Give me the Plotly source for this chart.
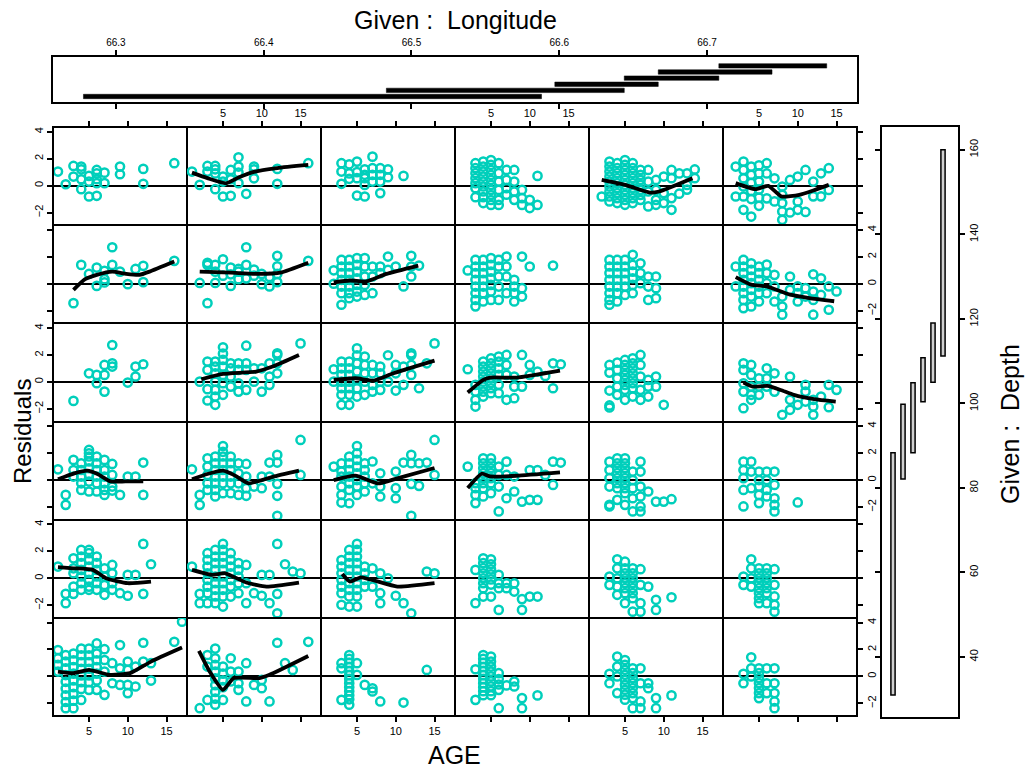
import plotly.graph_objects as go

W, H = 1026, 773
FONT = "Liberation Sans, Arial, Helvetica, sans-serif"
CYAN = "#00CFBB"

# ---------------- data ----------------
AGE_TICKS = [5, 10, 15]
RESID_TICKS = [-2, 0, 2, 4]
LON_TICKS = [66.3, 66.4, 66.5, 66.6, 66.7]
LON_LABELS = ["66.3", "66.4", "66.5", "66.6", "66.7"]
DEPTH_TICKS = [40, 60, 80, 100, 120, 140, 160]

LON_LO = [66.278, 66.483, 66.597, 66.644, 66.667, 66.708]
LON_HI = [66.588, 66.644, 66.667, 66.708, 66.744, 66.781]
DEPTH_LO = [31.0, 82.1, 88.3, 100.4, 105.0, 111.2]
DEPTH_HI = [88.3, 99.8, 104.9, 110.8, 119.0, 160.0]

# scatter data per panel: row (from top), column (from left); AGE -> residuals
p11 = {1: [1.04], 2: [0.1], 3: [1.46, 0.67], 4: [1.41, 1.21, 0.47, -0.27], 5: [0.72, 0.3, -0.81],
       6: [1.16, 0.9, 0.47, 0.18, -0.76], 7: [0.96, 0.18], 9: [1.41, 0.84], 12: [1.24, 0.13], 16: [1.66]}
p12 = {1: [1.04], 2: [0.05], 3: [1.46, 1.04], 4: [1.46, 1.21, 0.9, -0.27], 5: [0.67, 0.3, -0.81],
       6: [1.16, 0.47, -0.76], 7: [2.1, 1.41, 0.96, 0.18], 8: [-0.61], 9: [1.41, 1.21, 0.54],
       12: [1.24, 0.13], 16: [1.66]}
p13 = {3: [1.66, 1.04, 0.13], 4: [1.58, 0.9, 0.5], 5: [1.78, 1.0, 0.55, -0.74], 6: [1.21, 0.8, 0.55, 0.05, -0.81],
       7: [2.15, 1.29, 0.79, 0.3], 8: [1.29, 0.8, 0.3, -0.56], 9: [1.21, 0.62], 11: [0.72]}
p14 = {3: [1.66, 1.29, 0.92, 0.55, 0.18, -0.19, -0.86], 4: [1.78, 1.41, 1.04, 0.67, 0.3, -0.07, -0.44, -0.86, -1.3],
       5: [1.9, 1.53, 1.16, 0.79, 0.42, 0.05, -0.32, -0.7, -1.07, -1.44], 6: [1.66, 0.92, 0.3, -0.32, -1.06, -1.44],
       7: [1.16, 0.42, -0.19, -0.68], 8: [1.16, 0.3, -0.44, -1.06], 9: [-0.32, -0.93, -1.44], 10: [-1.06, -1.67],
       11: [0.72, -1.44]}
p15 = {2: [-0.81], 3: [1.78, 1.41, 1.04, 0.67, 0.3, -0.07, -0.44, -0.81, -1.18],
       4: [1.66, 1.29, 0.92, 0.55, 0.18, -0.19, -0.56, -0.93, -1.3],
       5: [1.9, 1.53, 1.16, 0.79, 0.42, 0.05, -0.32, -0.69, -1.06, -1.43],
       6: [1.66, 1.29, 0.92, 0.55, 0.18, -0.19, -0.56, -0.93, -1.3], 7: [1.16, 0.79, 0.42, 0.05, -0.32, -0.69, -1.06],
       8: [1.16, 0.3, -0.44, -1.55], 9: [0.42, -0.32, -1.06, -1.43], 10: [0.67, -0.56, -1.3],
       11: [1.16, 0.55, -0.93, -1.8], 12: [0.9, -0.6], 13: [0.91, 0.05, -0.3], 14: [1.2, 0.55]}
p16 = {2: [1.41, -0.81], 3: [1.78, 1.16, 0.54, -0.07, -0.81, -1.8], 4: [1.41, 0.8, 0.2, -0.4, -1.0, -2.3],
       5: [1.5, 0.9, 0.3, -0.3, -0.9, -1.5], 6: [1.66, 0.9, -0.95], 7: [0.54, -1.18],
       8: [-0.07, -0.69, -1.3, -1.92, -2.54], 9: [0.42, -2.0], 10: [0.67, -1.18, -1.8], 11: [1.16, -1.96],
       12: [0.3, -0.8], 13: [0.91, -0.8], 14: [1.29, -0.32]}

p21 = {3: [-1.44], 4: [1.4], 5: [0.73], 6: [1.2, -0.16], 7: [0.96, 0.34, 0.1], 8: [2.71, 1.4], 9: [0.9],
       10: [-0.03], 11: [1.1], 12: [1.33, 0.12], 16: [1.7]}
p22 = {2: [0.06], 3: [1.55, 1.4, -1.44], 4: [1.4, 0.9, 0.06], 5: [1.82, 0.6], 6: [1.2, 0.7, -0.16],
       7: [1.1, 0.9, 0.34], 8: [2.71, 1.4, 0.4], 9: [1.05, 0.6], 10: [0.73, -0.03], 11: [0.5, -0.2],
       12: [2.07, 1.3, 0.73, 0.12], 16: [1.7]}
p23 = {2: [1.0, 0.0], 3: [1.77, 1.28, 0.79, 0.29, -0.21, -0.7, -1.56], 4: [1.77, 1.28, 0.79, 0.29, -0.21, -0.7, -1.07],
       5: [1.9, 1.4, 0.9, 0.41, -0.09, -0.58, -0.95], 6: [1.9, 1.28, 0.54, -0.09, -0.83], 7: [1.28, 0.54, -0.7],
       8: [1.28, 0.79], 9: [2.02, 1.03], 10: [1.28], 11: [-0.2], 12: [2.07, 1.28, 0.54], 13: [1.35]}
p24 = {2: [0.99], 3: [1.77, 1.28, 0.79, 0.29, -0.21, -0.7, -1.2, -1.68], 4: [1.77, 1.28, 0.79, 0.29, -0.21, -0.7, -1.32],
       5: [1.9, 1.4, 0.9, 0.41, -0.09, -0.58, -1.2], 6: [1.77, 1.28, 0.54, -0.21, -1.2], 7: [2.02, 1.28, 0.54, -0.7],
       8: [0.29, -0.21, -0.7, -1.32], 9: [2.02, -0.33, -0.95], 10: [1.28], 13: [1.35]}
p25 = {3: [1.77, 1.28, 0.79, 0.29, -0.21, -0.7, -1.2, -1.56], 4: [1.77, 1.28, 0.79, 0.29, -0.21, -0.7, -1.32],
       5: [1.77, 1.28, 0.79, 0.29, -0.21, -0.83], 6: [2.15, 1.4, 0.9, 0.41, -0.09, -0.7], 7: [1.52, 0.79, 0.04],
       8: [0.54, -0.21, -1.2], 9: [0.54, -0.33, -1.07]}
p26 = {2: [1.28, -0.2], 3: [1.77, 1.28, 0.79, 0.29, -0.21, -0.7, -1.2, -1.81],
       4: [1.52, 1.03, 0.54, 0.04, -0.45, -0.95, -1.69], 5: [1.28, 0.79, 0.29, -0.21, -0.7, -1.32],
       6: [1.42, 0.79, 0.04, -0.7], 7: [0.66, -0.2, -1.32], 8: [-0.95, -1.69, -2.3], 9: [0.54, -0.45],
       10: [-0.2, -0.7, -1.32], 11: [-0.33, -0.95], 12: [0.7, -0.58, -1.2, -2.3], 13: [0.41, -0.83],
       14: [-0.2, -1.93], 15: [-0.57]}

p31 = {3: [-1.41], 5: [0.64], 6: [0.52, -0.1], 7: [1.26, 0.52, -0.72], 8: [2.74, 1.38, 1.14], 10: [-0.05],
       11: [1.14, 0.4], 12: [1.31]}
p32 = {2: [0.02], 3: [1.51, 0.89, -0.54, -1.38], 4: [1.51, 1.14, 0.64, 0.02, -0.59, -1.09, -1.7],
       5: [2.57, 2.1, 1.63, 1.14, 0.52, -0.1, -0.96], 6: [1.38, 1.01, 0.4, -0.35], 7: [1.38, 0.89, -0.1, -0.72],
       8: [2.69, 1.38, 0.89, -0.59], 9: [1.01, 0.02], 10: [1.01, -0.72], 11: [1.38, 0.4, -0.22],
       12: [2.12, 2.0, 1.38, 0.64], 15: [2.86]}
p33 = {2: [0.94, 0.02], 3: [1.51, 1.01, 0.52, 0.02, -0.47, -0.96, -1.7], 4: [1.51, 1.01, 0.52, 0.02, -0.47, -0.96, -1.7],
       5: [2.49, 1.98, 1.38, 0.77, 0.15, -0.47, -1.09], 6: [1.88, 1.26, 0.64, 0.02, -0.96],
       7: [1.26, 0.64, -0.22, -0.72], 8: [1.14, 0.64, 0.02, -0.59], 9: [1.98, 0.02], 10: [1.26, 0.64, -0.64],
       11: [1.14, -0.22], 12: [2.12, 1.98, 1.26, 0.52], 13: [-0.47], 14: [1.38], 15: [2.86]}
p34 = {2: [0.94], 3: [-0.22, -0.72, -1.33, -1.83], 4: [1.51, 1.14, 0.77, 0.4, 0.02, -0.35, -0.72, -1.09],
       5: [1.75, 1.38, 1.01, 0.64, 0.27, -0.1, -0.47, -0.84], 6: [1.88, 1.51, 1.01, 0.52, -0.22, -0.84],
       7: [2.0, 1.26, 0.52, -1.33], 8: [0.4, -0.35, -1.21], 9: [2.0, -0.35], 10: [1.26, 0.52], 11: [0.77],
       12: [0.44], 13: [1.38, -0.47], 14: [1.31]}
p35 = {3: [1.26, 0.69, -0.64, -1.75, -1.9], 4: [1.43, 0.89, 0.27, -0.35, -0.96],
       5: [1.63, 1.26, 0.89, 0.52, 0.15, -0.22, -0.59, -1.33], 6: [1.75, 1.38, 1.01, 0.64, 0.27, -0.1, -0.47, -1.09],
       7: [2.0, 1.26, 0.4, -0.59, -1.33], 8: [0.15, -0.35, -1.09], 9: [0.4, -0.35], 10: [-1.7]}
p36 = {3: [1.38, 0.89, -0.1, -0.72, -1.95], 4: [1.26, 0.52, -0.35, -0.96, -1.33], 5: [0.27, -0.35, -0.96],
       6: [1.01, 0.27, -0.35], 7: [0.64, -0.72], 8: [-2.44], 9: [0.4, -1.33, -2.07], 10: [-1.7],
       11: [-0.22, -0.72, -1.46], 12: [-1.33, -1.83, -2.44], 13: [-1.09], 14: [-0.22, -1.88], 15: [-0.59]}

p41 = {1: [0.8], 2: [-1.1, -1.84], 3: [1.5, 0.75, 0.26], 4: [1.25, 0.75, 0.26, -0.24, -0.73],
       5: [2.24, 1.99, 1.75, 1.38, 0.88, 0.38, -0.11, -0.85], 6: [1.75, 1.25, 0.75, 0.26, -0.24, -0.85],
       7: [1.5, 0.75, 0.26, -0.24, -0.73, -1.1], 8: [1.2, 0.38, -0.48, -0.78], 9: [-1.1], 10: [0.26], 11: [0.26],
       12: [1.3, -1.1]}
p42 = {1: [0.8], 2: [-1.1, -1.84], 3: [1.62, 1.0, 0.38, -0.24, -0.73], 4: [1.75, 1.25, 0.75, 0.26, -0.24, -0.73, -1.22],
       5: [2.53, 2.1, 1.75, 1.25, 0.75, 0.26, -0.24, -0.97], 6: [1.75, 1.25, 0.75, 0.26, -0.24, -0.97],
       7: [1.25, 0.5, -0.24, -1.1], 8: [1.2, 0.26, -0.6, -1.17], 9: [-0.48], 10: [0.26, -0.6], 11: [1.3, 0.26],
       12: [1.87, 1.3, -0.28, -1.17, -2.65], 15: [2.98, 0.38]}
p43 = {2: [1.0], 3: [1.25, 0.63, 0.26, -0.48, -1.1, -1.67], 4: [1.75, 1.25, 0.75, 0.26, -0.24, -0.73, -1.72],
       5: [2.53, 1.99, 1.5, 1.0, 0.5, 0.0, -0.48, -1.1], 6: [1.25, 0.75, 0.26, -0.24, -0.85], 7: [1.38, -0.24],
       8: [0.5, -0.48, -1.22], 10: [0.63, -0.6, -1.35], 11: [1.3], 12: [1.87, 1.25, -0.28, -2.65],
       13: [1.25, -0.43], 14: [1.3], 15: [2.98, 0.38]}
p44 = {2: [1.0], 3: [-0.23, -0.6, -1.1, -1.71], 4: [1.61, 1.25, 0.88, 0.51, 0.14, -0.23, -0.6, -1.22],
       5: [1.61, 1.25, 0.88, 0.51, 0.14, -0.23, -0.97], 6: [1.0, 0.38, -0.48, -2.33], 7: [1.37, 0.38, -1.35],
       8: [0.26, -0.85], 9: [-1.6], 10: [0.75, -1.47], 11: [0.75, -1.47], 12: [0.38], 13: [1.37, -0.36], 14: [1.3]}
p45 = {3: [1.37, 0.75, 0.14, -0.48, -1.84, -1.96], 4: [1.61, 1.25, 0.88, 0.51, 0.14, -0.23, -0.6, -1.47],
       5: [1.61, 1.25, 0.88, 0.51, 0.14, -0.23, -0.6, -0.97, -1.84], 6: [0.63, 0.0, -0.6, -1.35, -2.33],
       7: [1.37, 0.63, -0.48, -1.22, -1.96, -2.33], 8: [-0.85], 9: [-1.6], 10: [-1.6], 11: [-1.42]}
p46 = {3: [1.37, 0.75, 0.14, -0.73, -1.96], 4: [1.37, 0.63, -0.6], 5: [0.63, 0.0, -0.48, -1.1, -1.71],
       6: [0.63, 0.0, -0.73, -1.22], 7: [0.63, -0.36, -1.35, -1.84, -2.33], 10: [-1.66]}

p51 = {1: [0.87], 2: [-1.16, -1.85], 3: [1.48, 0.74, 0.37, -0.62, -1.16], 4: [2.1, 1.61, 1.12, 0.62, 0.13, -0.37, -0.86],
       5: [2.1, 1.86, 1.37, 0.87, 0.37, -0.12, -0.62, -0.86], 6: [1.61, 1.12, 0.62, 0.13, -0.37, -0.86],
       7: [0.74, 0.13, -0.5, -1.23], 8: [0.99, 0.37, -0.37, -0.86], 9: [-1.11], 10: [0.25, -1.3], 11: [0.25],
       12: [2.55, -1.16], 13: [1.04]}
p52 = {1: [0.87], 2: [-1.16, -1.85], 3: [1.86, 1.37, 0.87, 0.37, -0.12, -0.62, -1.11, -1.85],
       4: [2.1, 1.61, 1.12, 0.62, 0.13, -0.37, -0.86, -1.35, -1.85],
       5: [2.55, 2.1, 1.61, 1.12, 0.62, 0.13, -0.37, -0.86, -1.35, -2.1],
       6: [1.86, 1.37, 0.87, 0.37, -0.12, -0.62, -1.36], 7: [1.12, 0.62, 0.13, -0.37, -1.11], 8: [0.99, -0.37, -1.85],
       9: [-1.11], 10: [0.25, -1.3], 11: [0.25, -1.85], 12: [2.55, -1.16, -2.6], 13: [1.04], 14: [0.5], 15: [0.37]}
p53 = {3: [1.35, 0.87, 0.37, -0.12, -0.62, -1.11, -1.97], 4: [2.1, 1.61, 1.12, 0.62, 0.13, -0.37, -0.86, -1.35, -2.1],
       5: [2.55, 2.1, 1.61, 1.12, 0.62, 0.13, -0.37, -0.86, -1.35, -2.1], 6: [0.87, 0.37, -0.12, -0.62],
       7: [0.74, -0.62], 8: [0.37, -1.11, -1.85], 9: [0.0], 10: [-1.3], 11: [-1.85], 12: [-2.6], 14: [0.5], 15: [0.37]}
p54 = {3: [0.62, -1.85], 4: [1.48, 1.12, 0.75, 0.37, 0.0, -0.37, -0.74, -1.36],
       5: [1.41, 1.04, 0.66, 0.29, -0.09, -0.47, -1.36], 6: [0.25, -0.37, -0.74, -2.35], 7: [-0.37, -0.74],
       8: [-0.37, -0.99], 9: [-1.55, -2.35], 10: [-1.36], 11: [-1.36]}
p55 = {3: [0.12, -0.49], 4: [1.41, 0.74, 0.0, -0.62, -1.23], 5: [1.23, 0.74, 0.37, 0.0, -0.37, -0.74, -1.11, -1.85],
       6: [0.74, 0.37, 0.0, -0.37, -0.74, -1.11, -1.48, -2.48], 7: [0.67, -0.49, -1.85, -2.48], 8: [-0.62],
       9: [-1.6, -2.35], 11: [-1.41]}
p56 = {3: [0.12, -0.49], 4: [1.41, 0.74, 0.0, -0.62], 5: [0.74, 0.37, 0.0, -0.37, -0.74, -1.11, -1.48, -1.85],
       6: [0.74, 0.37, 0.0, -0.37, -0.74, -1.11, -1.85], 7: [0.67, -0.49, -1.35, -1.97, -2.48]}

p61 = {1: [1.96, 1.35, 0.85, 0.36], 2: [1.58, 1.1, 0.6, 0.1, -0.4, -0.9, -1.4, -1.9, -2.36],
       3: [1.7, 1.2, 0.7, 0.2, -0.3, -0.8, -1.3, -1.8, -2.36], 4: [2.07, 1.57, 1.07, 0.57, 0.07, -0.43, -0.93, -1.75],
       5: [2.07, 1.57, 1.07, 0.57, 0.07, -0.43, -1.0], 6: [2.45, 1.7, 1.2, 0.7, 0.2, -0.3, -1.0],
       7: [2.02, 1.22, 0.36, -1.37], 8: [0.98, -0.51], 9: [2.33, 0.6, -0.63], 10: [1.1, 0.48, -0.63, -1.24],
       11: [0.73, -0.75], 12: [2.5, 1.1], 13: [0.98, -0.31], 16: [2.57], 17: [4.06]}
p62 = {2: [-2.36], 3: [1.59, 0.73, -1.75], 4: [2.07, 1.35, 0.85, 0.35, -0.15, -0.65, -1.15, -1.65, -2.1],
       5: [0.73, 0.2, -0.3, -0.8, -1.75], 6: [1.35, 0.36, -0.38], 7: [0.36, -0.51, -1.0], 8: [0.98, -1.86],
       9: [-0.63], 10: [-0.26, -0.88], 11: [-1.86], 12: [2.5], 13: [0.98], 14: [0.48], 16: [2.57]}
p63 = {3: [0.98, 0.6, -1.74], 4: [1.59, 1.3, 1.0, 0.7, 0.4, 0.1, -0.2, -0.5, -0.8, -1.1, -1.4, -1.7, -2.1],
       5: [0.98, 0.11], 6: [-0.63], 7: [-0.88, -1.12], 8: [-1.86], 11: [-1.94], 14: [0.48]}
p64 = {3: [0.53, -1.74], 4: [1.59, 1.3, 1.0, 0.7, 0.4, 0.1, -0.2, -0.5, -0.8, -1.1, -1.4],
       5: [1.47, 1.1, 0.73, 0.36, 0.0, -0.37, -0.74, -1.1, -1.4], 6: [0.24, -0.2, -0.6, -1.0, -2.36], 7: [-0.67],
       8: [-0.38, -0.75], 9: [-1.61, -2.36], 11: [-1.41]}
p65 = {3: [0.19, -0.51], 4: [1.47, 0.73, 0.0, -1.24], 5: [1.22, 0.86, 0.49, 0.12, -0.25, -0.62, -0.99, -1.36, -1.73],
       6: [0.6, 0.24, -0.13, -0.5, -0.87, -1.24, -1.61, -2.36], 7: [0.6, -0.51, -1.86, -2.36], 8: [-0.51, -0.88],
       9: [-1.61, -2.36], 11: [-1.41]}
p66 = {3: [0.19, -0.51], 4: [1.42, 0.6, 0.0], 5: [0.6, 0.24, -0.13, -0.5, -0.87, -1.24, -1.61],
       6: [0.6, -0.51, -1.24], 7: [0.6, -0.51, -1.24, -1.86, -2.36]}

# loess smooths (AGE, residual) for the panels that have one
l12 = ([1, 3, 5.4, 7, 9, 12, 16], [0.96, 0.55, 0.17, 0.6, 1.02, 1.3, 1.53])
l15 = ([2, 5, 8.2, 9.4, 13.7], [0.42, 0.05, -0.52, -0.44, 0.55])
l16 = ([2, 4.5, 6.2, 7.9, 10.2, 12, 14], [0.18, -0.27, -0.02, -0.81, -0.69, -0.37, 0.05])
l21 = ([3, 4.5, 6, 8, 9.8, 11.5, 12.8, 16], [-0.45, 0.34, 0.66, 0.9, 0.73, 0.66, 0.9, 1.65])
l22 = ([2, 6, 9.7, 12.4, 16], [0.9, 0.82, 0.73, 0.82, 1.56])
l23 = ([2, 4.1, 6.2, 8.8, 12.9], [0.1, 0.24, 0.17, 0.73, 1.35])
l26 = ([2, 4, 6, 9, 11.5, 14.7], [0.49, -0.07, -0.2, -0.81, -1.06, -1.3])
l32 = ([2.2, 5, 9.3, 11.4, 14.8], [0.2, 0.59, 0.77, 1.14, 2.0])
l33 = ([2, 4.8, 7.2, 9.7, 15], [0.15, 0.27, 0.1, 0.64, 1.58])
l34 = ([2, 4, 4.9, 8.3, 13.9], [-0.79, 0.15, 0.32, 0.32, 0.84])
l36 = ([3, 4.2, 6.1, 7.8, 9.5, 12.1, 14.9], [-0.05, -0.35, -0.3, -0.6, -0.96, -1.28, -1.46])
l41 = ([1, 3.1, 4.8, 6.1, 7.8, 9.7, 12], [0.06, 0.5, 0.7, 0.45, -0.1, -0.1, -0.1])
l42 = ([1, 3, 5, 6.5, 8.3, 11.4, 14.8], [0.06, 0.45, 0.7, 0.35, -0.24, 0.24, 0.7])
l43 = ([2, 4.8, 7.7, 10.2, 15], [0.0, 0.33, -0.25, 0.13, 0.9])
l44 = ([2, 3.8, 4.9, 8.3, 13.9], [-0.59, 0.47, 0.27, 0.32, 0.57])
l51 = ([1, 3, 5.5, 7.2, 10, 13], [0.82, 0.74, 0.62, 0.0, -0.37, -0.25])
l52 = ([1, 3.6, 5.3, 8, 10.6, 14.8], [0.62, 0.25, 0.37, -0.32, -0.62, -0.32])
l53 = ([3.1, 4.1, 5.5, 10.2, 15], [0.32, -0.25, 0.07, -0.62, -0.37])
l61 = ([1, 3, 5, 7.7, 10.3, 13, 17], [0.36, 0.24, 0.48, 0.12, 0.24, 1.1, 2.14])
l62 = ([1.9, 3.3, 5, 6.4, 9.7, 11, 16], [1.9, 0.35, -1.0, -0.12, -0.12, 0.12, 1.52])

PANELS = {(1, 1): p11, (1, 2): p12, (1, 3): p13, (1, 4): p14, (1, 5): p15, (1, 6): p16,
          (2, 1): p21, (2, 2): p22, (2, 3): p23, (2, 4): p24, (2, 5): p25, (2, 6): p26,
          (3, 1): p31, (3, 2): p32, (3, 3): p33, (3, 4): p34, (3, 5): p35, (3, 6): p36,
          (4, 1): p41, (4, 2): p42, (4, 3): p43, (4, 4): p44, (4, 5): p45, (4, 6): p46,
          (5, 1): p51, (5, 2): p52, (5, 3): p53, (5, 4): p54, (5, 5): p55, (5, 6): p56,
          (6, 1): p61, (6, 2): p62, (6, 3): p63, (6, 4): p64, (6, 5): p65, (6, 6): p66}
LOESS = {(1, 2): l12, (1, 5): l15, (1, 6): l16, (2, 1): l21, (2, 2): l22, (2, 3): l23, (2, 6): l26,
         (3, 2): l32, (3, 3): l33, (3, 4): l34, (3, 6): l36, (4, 1): l41, (4, 2): l42, (4, 3): l43,
         (4, 4): l44, (5, 1): l51, (5, 2): l52, (5, 3): l53, (6, 1): l61, (6, 2): l62}

# ---------------- layout helpers ----------------
def fx(px):
    return px / W


def fy(py):
    return 1 - py / H


GL, GR, GT, GB = 53, 857, 127, 716
CW = (GR - GL) / 6
RH = (GB - GT) / 6
XR = [0.36, 17.64]
YR = [-2.94, 4.35]

fig = go.Figure()
layout = dict(width=W, height=H, margin=dict(l=0, r=0, t=0, b=0), paper_bgcolor="white",
              plot_bgcolor="white", showlegend=False, font=dict(family=FONT, color="black"))

tickfont = dict(family=FONT, size=11, color="black")

for (r, c), pdata in PANELS.items():
    idx = (r - 1) * 6 + c
    xn = "x" if idx == 1 else f"x{idx}"
    yn = "y" if idx == 1 else f"y{idx}"
    xs, ys = [], []
    for age, vals in pdata.items():
        for v in vals:
            xs.append(age)
            ys.append(v)
    fig.add_trace(go.Scatter(x=xs, y=ys, mode="markers", xaxis=xn, yaxis=yn,
                             marker=dict(symbol="circle-open", size=8.2, color=CYAN,
                                         line=dict(width=2.5, color=CYAN))))
    if (r, c) in LOESS:
        lx, ly = LOESS[(r, c)]
        fig.add_trace(go.Scatter(x=lx, y=ly, mode="lines", xaxis=xn, yaxis=yn,
                                 line=dict(color="black", width=3.8, shape="spline", smoothing=0.5)))
    x0 = GL + (c - 1) * CW
    y0 = GT + (r - 1) * RH
    xa = dict(domain=[fx(x0), fx(x0 + CW)], range=XR, anchor=yn, showgrid=False, zeroline=False,
              showline=True, mirror=True, linecolor="black", linewidth=1.1, tickvals=AGE_TICKS,
              tickfont=tickfont, ticklen=5, tickwidth=1.5, tickcolor="black")
    if r == 1:
        xa.update(side="top", ticks="outside", showticklabels=(c % 2 == 0))
    elif r == 6:
        xa.update(side="bottom", ticks="outside", showticklabels=(c % 2 == 1))
    else:
        xa.update(ticks="", showticklabels=False)
    ya = dict(domain=[fy(y0 + RH), fy(y0)], range=YR, anchor=xn, showgrid=False, zeroline=True,
              zerolinecolor="black", zerolinewidth=2, showline=True, mirror=True, linecolor="black",
              linewidth=1.1, tickvals=RESID_TICKS, tickfont=tickfont, ticklen=5, tickwidth=1.5,
              tickcolor="black", tickangle=-90)
    if c == 1:
        ya.update(side="left", ticks="outside", showticklabels=(r % 2 == 1))
    elif c == 6:
        ya.update(side="right", ticks="outside", showticklabels=(r % 2 == 0))
    else:
        ya.update(ticks="", showticklabels=False)
    layout["xaxis" if idx == 1 else f"xaxis{idx}"] = xa
    layout["yaxis" if idx == 1 else f"yaxis{idx}"] = ya

# outer frame of the panel grid
layout["shapes"] = [dict(type="rect", xref="paper", yref="paper", x0=fx(GL), x1=fx(GR), y0=fy(GB), y1=fy(GT),
                         line=dict(color="black", width=2), layer="above")]

# ---- Given: Longitude panel ----
LEVELS = [1, 2, 3, 4, 5, 6]
fig.add_trace(go.Bar(orientation="h", y=LEVELS, x=[h - l for l, h in zip(LON_LO, LON_HI)], base=LON_LO,
                     width=0.72, xaxis="x37", yaxis="y37",
                     marker=dict(color="black", line=dict(color="black", width=0.5))))
layout["xaxis37"] = dict(domain=[fx(GL), fx(GR)], range=[66.2574, 66.8015], anchor="y37", side="top",
                         showgrid=False, zeroline=False, showline=True, mirror="ticks", linecolor="black",
                         linewidth=2, ticks="outside", ticklen=5, tickwidth=1.5, tickcolor="black",
                         tickvals=LON_TICKS, ticktext=LON_LABELS, tickfont=dict(family=FONT, size=10))
layout["yaxis37"] = dict(domain=[fy(102), fy(57)], range=[0.1, 7.45], anchor="x37", showgrid=False,
                         zeroline=False, showline=True, mirror=True, linecolor="black", linewidth=2,
                         ticks="", showticklabels=False)

# ---- Given: Depth panel ----
fig.add_trace(go.Bar(x=LEVELS, y=[h - l for l, h in zip(DEPTH_LO, DEPTH_HI)], base=DEPTH_LO,
                     width=0.42, xaxis="x38", yaxis="y38",
                     marker=dict(color="#d0d0d0", line=dict(color="black", width=1.5))))
layout["xaxis38"] = dict(domain=[fx(882), fx(958)], range=[-0.1, 7.5], anchor="y38", showgrid=False,
                         zeroline=False, showline=True, mirror=True, linecolor="black", linewidth=2,
                         ticks="", showticklabels=False)
layout["yaxis38"] = dict(domain=[fy(717), fy(127)], range=[25.8, 165.4], anchor="x38", side="right",
                         showgrid=False, zeroline=False, showline=True, mirror="ticks", linecolor="black",
                         linewidth=2, ticks="outside", ticklen=5, tickwidth=1.5, tickcolor="black",
                         tickvals=DEPTH_TICKS, tickangle=-90, tickfont=dict(family=FONT, size=11))

layout["annotations"] = [
    dict(text="Given :  Longitude", x=fx(455), y=fy(20), xref="paper", yref="paper", showarrow=False,
         font=dict(family=FONT, size=25), xanchor="center", yanchor="middle"),
    dict(text="AGE", x=fx(454), y=fy(755), xref="paper", yref="paper", showarrow=False,
         font=dict(family=FONT, size=25), xanchor="center", yanchor="middle"),
    dict(text="Residuals", x=fx(22), y=fy(432), xref="paper", yref="paper", showarrow=False,
         font=dict(family=FONT, size=24), textangle=-90, xanchor="center", yanchor="middle"),
    dict(text="Given :  Depth", x=fx(1010), y=fy(424), xref="paper", yref="paper", showarrow=False,
         font=dict(family=FONT, size=25), textangle=-90, xanchor="center", yanchor="middle"),
]

fig.update_layout(**layout)
fig.write_html("out.html")
